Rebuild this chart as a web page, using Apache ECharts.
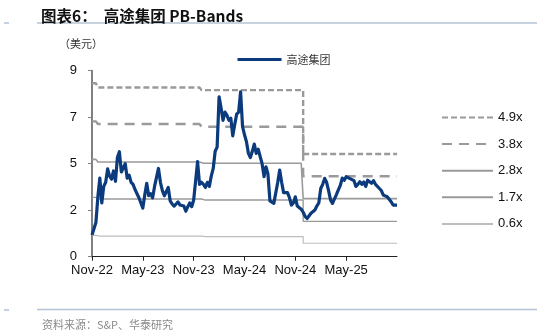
<!DOCTYPE html>
<html>
<head>
<meta charset="utf-8">
<script src="https://cdn.jsdelivr.net/npm/echarts@6/dist/echarts.min.js"></script>
<style>html,body{margin:0;padding:0;background:#fff}#c{width:537px;height:331px}</style>
</head>
<body>
<div id="c"></div>
<script>
// Weekly PB-series of 高途集团 (USD), index 0 = Nov-22
const priceValues = [
1.05,1.35,1.65,2.9,3.8,2.6,3.4,3.6,4.25,3.9,
3.75,4.15,3.65,4.8,5.08,4.1,4.1,4.5,3.8,3.95,
3.6,3.5,3.25,3.3,2.85,2.9,2.35,3.0,3.55,2.95,
3.05,2.85,3.4,3.35,4.27,3.6,3.2,2.95,3.0,3.35,
2.7,2.55,2.45,2.55,2.65,2.5,2.58,2.45,2.2,2.42,
2.6,2.42,2.74,2.75,4.6,3.5,3.6,3.5,3.35,3.6,
3.4,3.9,4.27,5.1,5.3,7.74,7.2,6.6,7.0,6.85,
6.6,6.7,5.85,6.4,6.9,7.0,7.98,6.3,5.9,5.56,
5.0,4.8,5.1,5.45,5.0,5.2,4.85,4.5,3.87,4.35,
4.0,2.7,2.66,2.58,2.62,3.6,4.19,3.6,3.1,3.06,
3.1,2.85,2.5,2.6,2.9,2.45,2.5,2.3,2.15,1.95,
1.85,1.92,2.1,2.05,2.26,2.45,2.6,3.3,3.5,3.79,
3.6,3.2,2.75,2.58,2.62,3.0,3.23,3.45,3.8,3.7,
3.87,3.85,3.78,3.7,3.68,3.4,3.5,3.63,3.5,3.62,
3.4,3.7,3.63,3.55,3.68,3.5,3.5,3.3,3.2,2.98,
3.0,2.9,2.85,2.66,2.5,2.42,2.5
];
const tickLabels = ['Nov-22','May-23','Nov-23','May-24','Nov-24','May-25'];
const yTickValues = [0,2.25,4.5,6.75,9];
// band segments: start index of each segment
const segStarts = [0,4,57,109];
const band49 = [8.39,8.19,8.06,4.97];
const band38 = [6.55,6.42,6.29,3.89];
const band28 = [4.71,4.58,4.52,2.81];
const band17 = [2.87,2.79,2.74,1.71];
const band06 = [1.03,1.00,0.97,0.65];
const bandNames = ['4.9x','3.8x','2.8x','1.7x','0.6x'];

const cats = priceValues.map((_, i) => String(i));
function expand(levels){
  return cats.map((_, i) => {
    let s = 0;
    for (let k = 0; k < segStarts.length; k++) if (i >= segStarts[k]) s = k;
    return levels[s];
  });
}
const bandStyles = [
  {color:'#9a9a9a', width:2.4, type:[6,3]},
  {color:'#9a9a9a', width:2.4, type:[10,7]},
  {color:'#9a9a9a', width:1.6, type:'solid'},
  {color:'#9a9a9a', width:1.4, type:'solid'},
  {color:'#bdbdbd', width:1.2, type:'solid'}
];
const bandLevels = [band49, band38, band28, band17, band06];

const series = [{
  name:'高途集团', type:'line', data:priceValues, symbol:'none', z:5,
  lineStyle:{color:'#0b3b7c', width:3.2, join:'round'}, itemStyle:{color:'#0b3b7c'}
}];
bandLevels.forEach((lv, k) => {
  series.push({
    name:bandNames[k], type:'line', data:expand(lv), symbol:'none', step:'start', z:3,
    lineStyle:bandStyles[k], itemStyle:{color:bandStyles[k].color}
  });
});

const chart = echarts.init(document.getElementById('c'));
chart.setOption({
  animation:false,
  backgroundColor:'#fff',
  title:[
    {text:'图表6：  高途集团 PB-Bands', left:36, top:3,
     textStyle:{fontSize:15.5, fontWeight:'bold', color:'#111', fontFamily:'Noto Sans CJK SC, Liberation Sans, sans-serif'}},
    {text:'（美元）', left:54, top:33,
     textStyle:{fontSize:11, fontWeight:'normal', color:'#333', fontFamily:'Noto Sans CJK SC, sans-serif'}},
    {text:'资料来源：S&P、华泰研究', left:37, top:314,
     textStyle:{fontSize:11, fontWeight:'normal', color:'#8a8a8a', fontFamily:'Noto Sans CJK SC, sans-serif'}}
  ],
  graphic:[
    {type:'line', shape:{x1:37,y1:23,x2:537,y2:23}, style:{stroke:'#b4c3d3', lineWidth:1.5}},
    {type:'line', shape:{x1:4,y1:23,x2:9,y2:23}, style:{stroke:'#b4c3d3', lineWidth:1.5}},
    {type:'line', shape:{x1:37,y1:309.5,x2:537,y2:309.5}, style:{stroke:'#b4c3d3', lineWidth:1.5}},
    {type:'line', shape:{x1:4,y1:310,x2:9,y2:310}, style:{stroke:'#b4c3d3', lineWidth:1.5}}
  ],
  legend:[
    {data:['高途集团'], left:231, top:49, itemWidth:44, itemHeight:14,
     itemStyle:{opacity:0}, lineStyle:{width:3},
     textStyle:{fontSize:11, color:'#333', fontFamily:'Noto Sans CJK SC, sans-serif'}},
    {data:bandNames, orient:'vertical', left:436, top:106, itemWidth:51, itemHeight:14, itemGap:13.6,
     itemStyle:{opacity:0},
     textStyle:{fontSize:13, color:'#111', fontFamily:'Liberation Sans, Arial, sans-serif'}}
  ],
  grid:{left:92, right:140, top:70.7, bottom:74.3, containLabel:false},
  xAxis:{
    type:'category', data:cats, boundaryGap:false,
    axisLine:{lineStyle:{color:'#222', width:1}},
    axisTick:{show:true, interval:(i)=> i%26===0 && i<156, length:4, lineStyle:{color:'#222'}},
    axisLabel:{interval:(i)=> i%26===0 && i<156, formatter:(v,i)=> tickLabels[i/26] || '',
      fontSize:13, color:'#111', margin:7, fontFamily:'Liberation Sans, Arial, sans-serif'},
    splitLine:{show:false}
  },
  yAxis:{
    type:'value', min:yTickValues[0], max:yTickValues[yTickValues.length-1], interval:yTickValues[1]-yTickValues[0],
    axisLine:{show:true, lineStyle:{color:'#808080', width:2}},
    axisTick:{show:true, length:4, lineStyle:{color:'#808080'}},
    axisLabel:{formatter:(v)=> String(Math.round(v)), fontSize:13, color:'#111', margin:15,
      fontFamily:'Liberation Sans, Arial, sans-serif'},
    splitLine:{show:false}
  },
  series:series
});
</script>
</body>
</html>
